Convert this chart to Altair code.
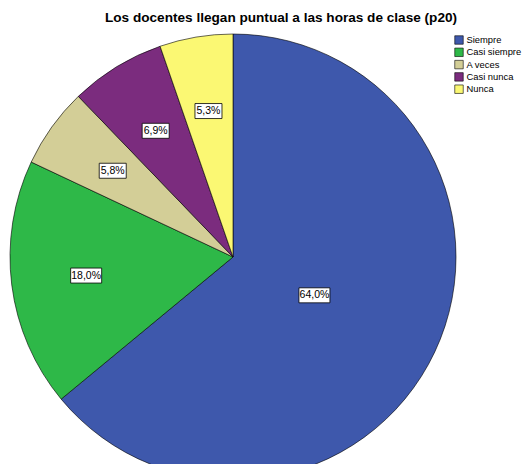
import altair as alt
import pandas as pd

categories = ["Siempre", "Casi siempre", "A veces", "Casi nunca", "Nunca"]
percentages = [64.0, 18.0, 5.8, 6.9, 5.3]
labels = ["64,0%", "18,0%", "5,8%", "6,9%", "5,3%"]
colors = ["#3E58AC", "#2EB848", "#D3CE97", "#7B2C7E", "#FBF873"]
title_text = "Los docentes llegan puntual a las horas de clase (p20)"

df = pd.DataFrame({"cat": categories, "pct": percentages, "label": labels,
                   "idx": list(range(len(categories)))})

CX, CY, R = 225, 219, 223
FONT = "Liberation Sans"

base = alt.Chart(df)

pie = base.mark_arc(outerRadius=R, stroke="#000000", strokeWidth=0.6).encode(
    theta=alt.Theta("pct:Q", stack=True),
    color=alt.Color(
        "cat:N",
        scale=alt.Scale(domain=categories, range=colors),
        sort=categories,
        legend=alt.Legend(
            title=None, orient="none", legendX=446, legendY=-3,
            symbolType="square", symbolSize=72,
            symbolStrokeColor="#000000", symbolStrokeWidth=0.6,
            labelFont=FONT, labelFontSize=9.4, labelColor="#000000",
            labelOffset=2.5, rowPadding=0.3, padding=0,
        ),
    ),
    order=alt.Order("idx:Q"),
    x=alt.value(CX),
    y=alt.value(CY),
)

lab = base.transform_window(
    cum="sum(pct)", sort=[alt.SortField("idx")], frame=[None, 0]
).transform_calculate(
    ang="(datum.cum - datum.pct/2) / 100 * 2 * PI",
    rr="datum.pct > 50 ? 90 : 148",
).transform_calculate(
    px=f"{CX} + datum.rr * sin(datum.ang)",
    py=f"{CY} - datum.rr * cos(datum.ang)",
    w="4 * length(datum.label) + 11",
).transform_calculate(
    x1="datum.px - datum.w/2",
    x2="datum.px + datum.w/2",
    y1="datum.py - 7.5",
    y2="datum.py + 7.5",
)

boxes = lab.mark_rect(fill="#FFFFFF", stroke="#000000", strokeWidth=0.8).encode(
    x=alt.X("x1:Q", scale=None, axis=None),
    x2="x2:Q",
    y=alt.Y("y1:Q", scale=None, axis=None),
    y2="y2:Q",
)

texts = lab.mark_text(font=FONT, fontSize=10.5, color="#000000").encode(
    x=alt.X("px:Q", scale=None, axis=None),
    y=alt.Y("py:Q", scale=None, axis=None),
    text="label:N",
)

chart = alt.layer(pie, boxes, texts).properties(
    width=516, height=426,
    title=alt.TitleParams(title_text, font=FONT, fontSize=13.6, fontWeight="bold",
                          color="#000000", anchor="start", dx=97, offset=8),
    autosize=alt.AutoSizeParams(type="none"),
    padding={"left": 0, "top": 30, "right": 0, "bottom": 0},
    background="#FFFFFF",
).configure_view(strokeWidth=0, stroke="transparent").configure_axis(
    domain=False, grid=False, ticks=False, labels=False
)

chart.save("out.html", embed_options={"renderer": "svg", "actions": False})
